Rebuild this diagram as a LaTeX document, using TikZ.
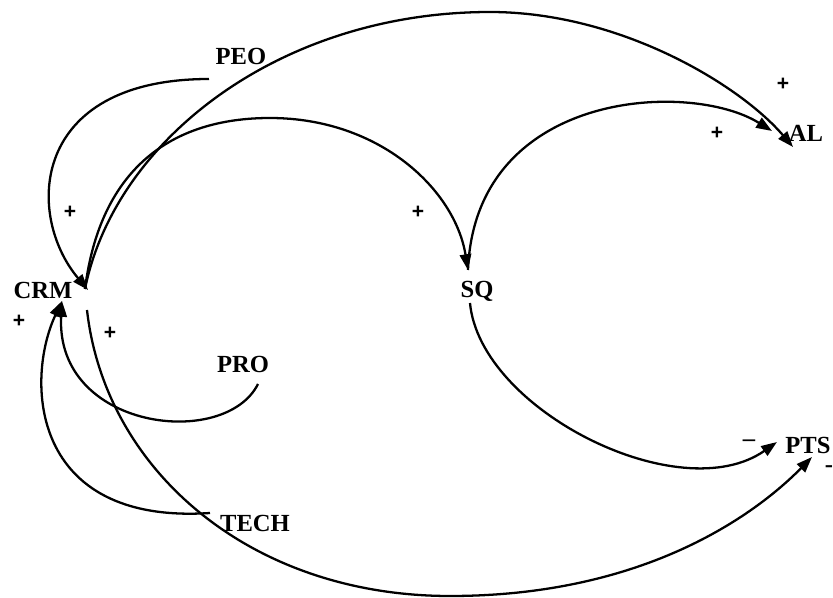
\documentclass[tikz,border=0pt]{standalone}
\usepackage{fontspec}
\setmainfont{Liberation Serif}
\setsansfont{Liberation Sans}
\usetikzlibrary{arrows.meta}

\begin{document}
\begin{tikzpicture}[x=0.02cm, y=-0.02cm,
  var/.style={font=\fontsize{14}{16}\selectfont\bfseries, inner sep=0pt},
  sgn/.style={font=\fontsize{12}{14}\selectfont\sffamily\bfseries, inner sep=0pt},
  link/.style={-{Triangle[length=9pt,width=6.5pt]}, line width=1.3pt}]
\useasboundingbox (0,0) rectangle (833,598);
% variables
\node[var] at (43,290) (crm) {CRM};
\node[var] at (241,56) (peo) {PEO};
\node[var] at (806,133) (al) {AL};
\node[var] at (477,291) (sq) {SQ};
\node[var] at (243,364) (pro) {PRO};
\node[var] at (808,445) (pts) {PTS};
\node[var] at (255,523) (tech) {TECH};
% ends of the arcs
\coordinate (peo-s) at (209,79);
\coordinate (crm-a) at (88,290);
\coordinate (crm-b) at (85,289);
\coordinate (crm-c) at (62,301);
\coordinate (crm-d) at (87,310);
\coordinate (al-a) at (793,147);
\coordinate (al-b) at (772,131);
\coordinate (sq-a) at (468,270);
\coordinate (sq-b) at (470,303);
\coordinate (pts-a) at (777,442);
\coordinate (pts-b) at (812,457);
\coordinate (pro-s) at (258,384);
\coordinate (tech-s) at (210,513);
% links
\draw[link] (peo-s) .. controls (30,79) and (25,215) .. (crm-a);
\draw[link] (crm-b) .. controls (115,140) and (280,12) .. (490,12)
  .. controls (620,12) and (740,85) .. (al-a);
\draw[link] (crm-b) .. controls (100,170) and (170,118) .. (270,118)
  .. controls (380,118) and (455,190) .. (sq-a);
\draw[link] (sq-a) .. controls (475,90) and (690,80) .. (al-b);
\draw[link] (sq-b) .. controls (480,410) and (680,510) .. (pts-a);
\draw[link] (crm-d) .. controls (105,470) and (250,596) .. (450,596)
  .. controls (650,596) and (760,510) .. (pts-b);
\draw[link] (pro-s) .. controls (225,450) and (55,430) .. (crm-c);
\draw[link] (tech-s) .. controls (30,525) and (25,380) .. (crm-c);
% polarities
\node[sgn] at (70,212) (p1) {+};
\node[sgn] at (418,212) (p2) {+};
\node[sgn] at (783,84) (p3) {+};
\node[sgn] at (717,133) (p4) {+};
\node[sgn] at (19,321) (p5) {+};
\node[sgn] at (110,333) (p6) {+};
\node[var] at (749,443) (m1) {–};
\node[var] at (829,469) (m2) {-};
\end{tikzpicture}
\end{document}
